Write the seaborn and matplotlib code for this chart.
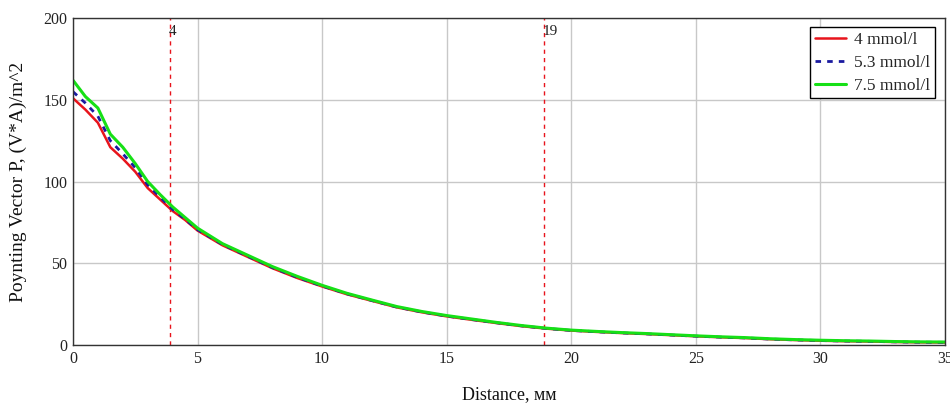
import numpy as np
import pandas as pd
import matplotlib
matplotlib.use("Agg")
import matplotlib.pyplot as plt
import seaborn as sns

distance = [0, 0.5, 1, 1.5, 2, 2.5, 3, 3.5, 4, 4.5, 5, 6, 7, 8, 9, 10, 11, 12, 13, 14, 15,
            16, 17, 18, 19, 20, 21, 22, 23, 24, 25, 26, 27, 28, 29, 30, 31, 32, 33, 34, 35]
p_4 = [151, 144, 136, 121, 114, 106, 96, 89, 82, 76.5, 70, 61, 54, 47, 41, 35.8, 31, 27, 23, 20, 17.5,
       15.4, 13.4, 11.5, 10, 8.8, 8, 7.3, 6.7, 6, 5.3, 4.7, 4.2, 3.5, 3.0, 2.6, 2.3, 2.1, 1.8, 1.6, 1.5]
p_5_3 = [155, 148, 140, 125, 117, 108.5, 98, 90.5, 83, 77, 70.6, 61.5, 54.4, 47.4, 41.4, 36.1, 31.3, 27.2, 23.2, 20.2, 17.7,
         15.6, 13.6, 11.7, 10.1, 8.9, 8.1, 7.4, 6.8, 6.1, 5.4, 4.8, 4.3, 3.6, 3.1, 2.7, 2.4, 2.2, 1.9, 1.7, 1.6]
p_7_5 = [162, 152, 145, 129, 121, 111, 100, 92, 84.5, 78, 71.5, 62, 55, 48, 42, 36.5, 31.6, 27.5, 23.5, 20.5, 18,
         15.9, 13.8, 11.9, 10.3, 9.1, 8.3, 7.6, 7, 6.3, 5.6, 5, 4.5, 3.8, 3.3, 2.9, 2.6, 2.4, 2.1, 1.9, 1.8]
series_labels = ["4 mmol/l", "5.3 mmol/l", "7.5 mmol/l"]
markers_x = [3.9, 18.9]
markers_text = ["4", "19"]
x_ticks = [0, 5, 10, 15, 20, 25, 30, 35]
y_ticks = [0, 50, 100, 150, 200]

df = pd.DataFrame({
    "Distance": distance * 3,
    "P": p_4 + p_5_3 + p_7_5,
    "Series": [series_labels[0]] * len(distance) + [series_labels[1]] * len(distance) + [series_labels[2]] * len(distance),
})

sns.set_style("white")
plt.rcParams["font.family"] = ["Liberation Serif", "DejaVu Serif"]

fig = plt.figure(figsize=(9.5, 4.03), dpi=100)
ax = fig.add_axes([0.0768, 0.144, 0.9179, 0.811])

palette = {series_labels[0]: "#e8141c", series_labels[1]: "#1a1aa0", series_labels[2]: "#16e016"}
dashes = {series_labels[0]: "", series_labels[1]: (2, 2.2), series_labels[2]: ""}
sizes = {series_labels[0]: 1.8, series_labels[1]: 2.0, series_labels[2]: 2.2}

for lab in series_labels:
    sub = df[df["Series"] == lab]
    sns.lineplot(data=sub, x="Distance", y="P", ax=ax, color=palette[lab],
                 linewidth=sizes[lab], label=lab,
                 linestyle=(0, dashes[lab]) if dashes[lab] else "-")

for xv, t in zip(markers_x, markers_text):
    ax.axvline(xv, color="#e8141c", linestyle=(0, (3, 3)), linewidth=1.0, zorder=1)
    ax.text(xv - 0.05, 196, t, fontsize=11, va="top", ha="left", color="#222222")

ax.set_xlim(0, 35)
ax.set_ylim(0, 200)
ax.set_xticks(x_ticks)
ax.set_yticks(y_ticks)
ax.grid(True, color="#c8c8c8", linewidth=1.0)
ax.set_axisbelow(True)
ax.tick_params(length=0, labelsize=11.5, colors="#222222", pad=4)
for s in ax.spines.values():
    s.set_color("#333333")
    s.set_linewidth(1.0)
ax.set_xlabel("Distance, мм", fontsize=13, labelpad=14, color="#111111")
ax.set_ylabel("Poynting Vector P, (V*A)/m^2", fontsize=14, labelpad=12, color="#111111")

leg = ax.legend(loc="upper right", bbox_to_anchor=(0.9885, 0.972), fontsize=12.5,
                frameon=True, fancybox=False, framealpha=1, edgecolor="black",
                handlelength=1.8, handletextpad=0.5, borderpad=0.25, labelspacing=0.4,
                borderaxespad=0)
leg.get_frame().set_linewidth(1.0)

fig.savefig("out.png", dpi=100)
